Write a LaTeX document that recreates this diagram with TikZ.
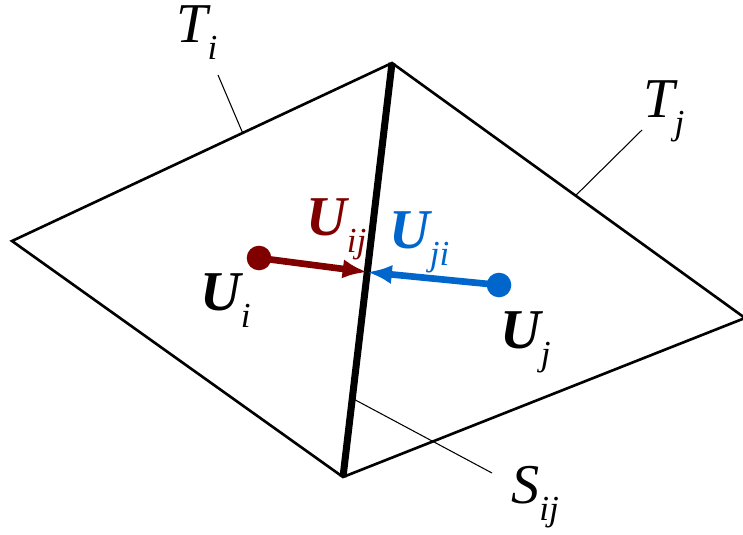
\documentclass[tikz,border=0pt]{standalone}
\usepackage{fontspec}
\setmainfont{Liberation Serif}
\usepackage{xcolor}
\usetikzlibrary{arrows.meta}
\usetikzlibrary{calc}

\definecolor{darkred}{RGB}{128,0,0}
\definecolor{midblue}{RGB}{0,102,204}

% label with a lowered index
\newcommand{\lowidx}[2]{#1\raisebox{-10pt}{\fontsize{20}{22}\selectfont #2}}

\tikzset{
  edge/.style={line width=1.5pt},
  face/.style={line width=4pt},
  leader/.style={line width=0.6pt},
  flux/.style={line width=3.8pt, -{Latex[length=14pt,width=11pt]}},
  dot/.style={circle, inner sep=0pt, minimum size=14pt},
  lbl/.style={font=\fontsize{32}{34}\selectfont\itshape, inner sep=0pt, anchor=base west},
  vec/.style={lbl, font=\fontsize{32}{34}\selectfont\bfseries\itshape}
}

\begin{document}
\begin{tikzpicture}[x=0.02cm, y=-0.02cm]

\useasboundingbox (0,0) rectangle (743,534);

\coordinate (L) at (12,241);
\coordinate (Top) at (392,63);
\coordinate (B) at (343,477);
\coordinate (R) at (745,318);
\coordinate (meet) at ($(Top)!0.505!(B)$);

\begin{scope}
\clip (0,0) rectangle (743,534);
\draw[edge, line join=miter] (Top) -- (L) -- (B) -- (R) -- cycle;
\end{scope}
\draw[face] (Top) -- (B);

% leader lines
\coordinate (ti) at ($(L)!0.607!(Top)$);
\coordinate (tj) at ($(Top)!0.52!(R)$);
\coordinate (sij) at ($(Top)!0.81!(B)$);
\draw[leader] (ti) -- (218,75);
\draw[leader] (tj) -- (642,130);
\draw[leader] (sij) -- (492,473);

\node[lbl] (Ti) at (176,42) {\lowidx{T}{i}};
\node[lbl] (Tj) at (643,117) {\lowidx{T}{j}};
\node[lbl] (Sij) at (511,503) {\lowidx{S}{ij}};

% cell values and fluxes
\node[dot, fill=darkred] (Ui) at (259,258) {};
\node[dot, fill=midblue] (Uj) at (499,285) {};
\draw[flux, darkred] (Ui.center) -- (meet);
\draw[flux, midblue] (Uj.center) -- (meet);

\node[vec] (UiL) at (200,310) {\lowidx{U}{\mdseries i}};
\node[vec] (UjL) at (500,348) {\lowidx{U}{\mdseries j}};
\node[vec, darkred] (Uij) at (306,235) {\lowidx{U}{\mdseries ij}};
\node[vec, midblue] (Uji) at (389,248) {\lowidx{U}{\mdseries ji}};

\end{tikzpicture}
\end{document}
